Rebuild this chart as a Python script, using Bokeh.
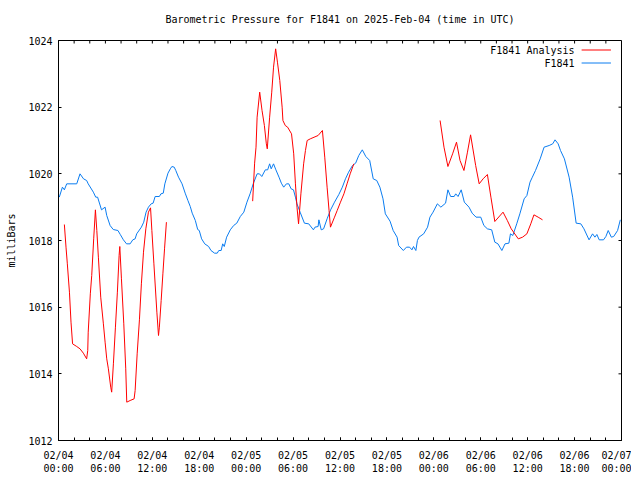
from math import pi
from bokeh.plotting import figure
from bokeh.models import FixedTicker, LinearAxis, Range1d, Label
from bokeh.embed import file_html
from bokeh.resources import INLINE

# ---------------- data (hours since 2025-02-04 00:00 UTC, millibars) ----------------
tick_hours = [0, 6, 12, 18, 24, 30, 36, 42, 48, 54, 60, 66, 72]
tick_labels = ["02/04\n00:00", "02/04\n06:00", "02/04\n12:00", "02/04\n18:00",
               "02/05\n00:00", "02/05\n06:00", "02/05\n12:00", "02/05\n18:00",
               "02/06\n00:00", "02/06\n06:00", "02/06\n12:00", "02/06\n18:00",
               "02/07\n00:00"]
minor_hours = list(range(0, 73, 2))
y_ticks = [1012, 1014, 1016, 1018, 1020, 1022, 1024]

station_hours = [0.1, 0.5, 0.75, 1.05, 2.33, 2.75, 3.2, 3.6, 3.8, 4.46, 4.76, 5.0, 5.5, 5.96,
                 6.17, 6.6, 7.0, 7.6, 7.9, 8.3, 8.7, 9.16, 9.5, 9.8, 10.0, 10.6, 10.9, 11.2,
                 11.5, 11.85, 12.1, 12.36, 12.9, 13.1, 13.4, 13.6, 14.0, 14.3, 14.5, 14.8,
                 15.0, 15.35, 15.8, 16.2, 16.55, 16.85, 17.1, 17.5, 17.8, 18.0, 18.3, 18.7,
                 19.2, 19.5, 19.96, 20.3, 20.5, 20.8, 21.0, 21.2, 21.5, 21.97, 22.4, 22.8,
                 23.25, 23.7, 24.1, 24.5, 24.9, 25.4, 25.7, 26.0, 26.45, 26.75, 27.0, 27.2,
                 27.5, 27.8, 28.2, 28.5, 28.8, 29.15, 29.45, 29.75, 30.05, 30.3, 30.5, 30.9,
                 31.45, 32.0, 32.6, 32.8, 33.2, 33.3, 33.6, 33.9, 34.35, 34.8, 35.3, 35.85,
                 36.3, 36.7, 37.1, 37.6, 38.0, 38.4, 38.85, 39.3, 39.8, 40.25, 40.7, 41.1,
                 41.5, 41.8, 42.4, 42.8, 43.3, 43.5, 44.1, 44.5, 44.9, 45.2, 45.4, 45.7,
                 45.9, 46.1, 46.7, 47.2, 47.5, 47.9, 48.45, 48.9, 49.5, 49.8, 50.15, 50.6,
                 50.8, 51.1, 51.5, 51.9, 52.5, 52.9, 53.4, 54.0, 54.4, 54.85, 55.4, 55.8,
                 56.2, 56.7, 57.1, 57.6, 57.8, 58.1, 58.6, 59.0, 59.55, 59.9, 60.3, 60.6,
                 61.0, 61.6, 62.1, 62.75, 63.2, 63.5, 63.9, 64.2, 64.7, 65.3, 65.75, 66.2,
                 66.8, 67.2, 67.85, 68.3, 68.6, 68.85, 69.15, 69.7, 70.0, 70.3, 70.7, 71.0,
                 71.5, 71.85]
station_mb = [1019.3, 1019.6, 1019.52, 1019.7, 1019.7, 1020.0, 1019.85, 1019.8, 1019.7,
              1019.45, 1019.3, 1019.3, 1018.92, 1019.0, 1018.75, 1018.45, 1018.33, 1018.3,
              1018.18, 1018.02, 1017.9, 1017.9, 1018.02, 1018.05, 1018.2, 1018.4, 1018.55,
              1018.85, 1019.0, 1019.1, 1019.12, 1019.32, 1019.32, 1019.4, 1019.42, 1019.7,
              1020.02, 1020.15, 1020.22, 1020.2, 1020.1, 1019.9, 1019.7, 1019.42, 1019.2,
              1019.02, 1018.82, 1018.6, 1018.33, 1018.3, 1018.05, 1017.9, 1017.82, 1017.7,
              1017.62, 1017.62, 1017.7, 1017.7, 1017.9, 1017.82, 1018.1, 1018.32, 1018.45,
              1018.52, 1018.72, 1018.85, 1019.15, 1019.4, 1019.7, 1020.0, 1020.0, 1019.92,
              1020.12, 1020.12, 1020.3, 1020.15, 1020.3, 1020.12, 1019.9, 1019.72, 1019.6,
              1019.7, 1019.7, 1019.55, 1019.52, 1019.3, 1019.1, 1018.85, 1018.52, 1018.5,
              1018.32, 1018.4, 1018.42, 1018.62, 1018.32, 1018.35, 1018.65, 1018.92,
              1019.15, 1019.38, 1019.6, 1019.85, 1020.05, 1020.25, 1020.32, 1020.55,
              1020.72, 1020.52, 1020.4, 1019.85, 1019.8, 1019.6, 1019.25, 1018.8, 1018.58,
              1018.3, 1018.1, 1017.85, 1017.7, 1017.8, 1017.8, 1017.72, 1017.82, 1017.7,
              1018.0, 1018.1, 1018.2, 1018.4, 1018.7, 1018.85, 1019.1, 1019.0, 1019.12,
              1019.52, 1019.32, 1019.32, 1019.4, 1019.32, 1019.52, 1019.15, 1019.0,
              1018.82, 1018.7, 1018.7, 1018.45, 1018.35, 1018.32, 1017.95, 1017.9, 1017.7,
              1017.9, 1017.92, 1018.2, 1018.15, 1018.5, 1018.8, 1019.25, 1019.35, 1019.75,
              1019.9, 1020.1, 1020.45, 1020.8, 1020.85, 1020.9, 1021.02, 1020.9, 1020.7,
              1020.45, 1019.9, 1019.3, 1018.52, 1018.5, 1018.35, 1018.02, 1018.2, 1018.1,
              1018.18, 1018.02, 1018.02, 1018.12, 1018.3, 1018.1, 1018.12, 1018.3, 1018.62]

analysis1_hours = [0.75, 0.96, 1.13, 1.4, 1.6, 1.8, 2.33, 2.75, 3.18, 3.6, 3.74, 3.8, 4.07,
                   4.25, 4.5, 4.72, 4.9, 5.1, 5.4, 5.74, 5.96, 6.17, 6.38, 6.68, 6.8, 7.02,
                   7.28, 7.53, 7.75, 7.84, 8.05, 8.35, 8.6, 8.73, 9.16, 9.67, 9.8, 10.06,
                   10.35, 10.6, 10.87, 11.17, 11.5, 11.77, 11.94, 12.2, 12.58, 12.79, 12.9,
                   13.13, 13.35, 13.56, 13.8]
analysis1_mb = [1018.48, 1017.8, 1017.3, 1016.45, 1015.55, 1014.9, 1014.82, 1014.75, 1014.62,
                1014.45, 1014.7, 1015.25, 1016.4, 1016.95, 1018.05, 1018.92, 1018.3, 1017.5,
                1016.3, 1015.5, 1014.95, 1014.45, 1014.15, 1013.6, 1013.45, 1014.3, 1015.4,
                1016.45, 1017.55, 1017.82, 1016.85, 1015.5, 1014.15, 1013.15, 1013.2,
                1013.25, 1013.5, 1014.6, 1015.62, 1016.7, 1017.65, 1018.35, 1018.85,
                1018.98, 1018.3, 1017.3, 1015.85, 1015.15, 1015.4, 1016.2, 1017.0, 1017.75,
                1018.55]

analysis2_hours = [24.83, 25.08, 25.26, 25.4, 25.73, 26.03, 26.33, 26.58, 26.7, 27.0, 27.27,
                   27.5, 27.77, 28.0, 28.3, 28.6, 28.7, 29.0, 29.3, 29.8, 30.08, 30.3, 30.5,
                   30.7, 31.0, 31.35, 31.58, 31.8, 32.2, 33.2, 33.75, 34.05, 34.35, 34.6,
                   34.78, 35.3, 35.64, 36.06, 36.5, 36.9, 37.3, 37.77]
analysis2_mb = [1019.18, 1020.32, 1020.8, 1021.7, 1022.45, 1021.9, 1021.45, 1020.9, 1020.75,
                1021.7, 1022.45, 1023.2, 1023.75, 1023.35, 1022.8, 1022.0, 1021.6, 1021.45,
                1021.4, 1021.2, 1020.6, 1019.7, 1019.0, 1018.5, 1019.4, 1020.3, 1020.7,
                1021.0, 1021.05, 1021.15, 1021.3, 1020.5, 1019.6, 1018.9, 1018.4, 1018.7,
                1018.9, 1019.15, 1019.4, 1019.7, 1020.0, 1020.3]

analysis3_hours = [48.8, 49.3, 49.8, 50.4, 50.9, 51.35, 51.85, 52.3, 52.7, 53.35, 53.8, 54.3,
                   54.85, 55.3, 55.8, 56.85, 57.4, 57.9, 58.8, 59.35, 59.9, 60.4, 60.8,
                   61.34, 61.9]
analysis3_mb = [1021.6, 1020.8, 1020.22, 1020.6, 1020.95, 1020.4, 1020.1, 1020.65, 1021.17,
                1020.25, 1019.7, 1019.85, 1019.98, 1019.3, 1018.57, 1018.85, 1018.6, 1018.35,
                1018.05, 1018.1, 1018.2, 1018.5, 1018.77, 1018.7, 1018.62]

title_text = "Barometric Pressure for F1841 on 2025-Feb-04 (time in UTC)"
series_names = ["F1841 Analysis", "F1841"]
RED = "#ff0000"
BLUE = "#0a7cf0"
FONT = "DejaVu Sans Mono"
FS = "10px"

X0, X1 = 0, 72
Y0, Y1 = 1012, 1024

# ---------------- figure ----------------
p = figure(frame_width=563, frame_height=400, output_backend="svg", toolbar_location=None,
           x_range=Range1d(X0, X1), y_range=Range1d(Y0, Y1),
           min_border_left=58, min_border_top=40, min_border_right=10, min_border_bottom=10,
           x_axis_type=None, y_axis_type=None)
p.background_fill_color = "white"
p.border_fill_color = "white"
p.outline_line_color = "black"
p.outline_line_width = 1
p.xgrid.visible = False
p.ygrid.visible = False

p.title.text = title_text
p.title.align = "center"
p.title.vertical_align = "top"
p.title.text_font = FONT
p.title.text_font_size = FS
p.title.text_font_style = "normal"
p.title.text_color = "black"
p.title.standoff = 27

xt = FixedTicker(ticks=tick_hours, minor_ticks=minor_hours)
yt = FixedTicker(ticks=y_ticks, minor_ticks=[])


def style(ax):
    ax.axis_line_color = "black"
    ax.major_tick_in = 3
    ax.major_tick_out = 0
    ax.minor_tick_in = 3
    ax.minor_tick_out = 0
    ax.major_tick_line_color = "black"
    ax.minor_tick_line_color = "black"
    ax.major_label_text_font = FONT
    ax.major_label_text_font_size = FS
    ax.major_label_text_color = "black"
    ax.axis_label_text_font = FONT
    ax.axis_label_text_font_size = FS
    ax.axis_label_text_font_style = "normal"
    ax.axis_label_text_color = "black"


xb = LinearAxis(ticker=xt)
style(xb)
xb.major_label_overrides = {h: lab for h, lab in zip(tick_hours, tick_labels)}
xb.major_label_standoff = 9
p.add_layout(xb, "below")

yl = LinearAxis(ticker=yt, axis_label="milliBars")
style(yl)
yl.major_label_standoff = 6
yl.axis_label_standoff = 8
p.add_layout(yl, "left")

# mirrored inward ticks on top and right borders (gnuplot style)
p.ray(x=minor_hours, y=[Y1] * len(minor_hours), length=3, length_units="screen",
      angle=-pi / 2, line_color="black", line_width=1)
p.ray(x=[X1] * len(y_ticks), y=y_ticks, length=3, length_units="screen",
      angle=pi, line_color="black", line_width=1)

# ---------------- data lines ----------------
p.line(station_hours, station_mb, line_color=BLUE, line_width=1)
for hs, ms in [(analysis1_hours, analysis1_mb), (analysis2_hours, analysis2_mb),
               (analysis3_hours, analysis3_mb)]:
    p.line(hs, ms, line_color=RED, line_width=1)

# ---------------- key (gnuplot style: text then sample line) ----------------
key_text_x = 66.0
key_line_x0, key_line_x1 = 66.9, 70.65
key_rows_y = [1023.715, 1023.325]
for name, col, ky in zip(series_names, [RED, BLUE], key_rows_y):
    p.add_layout(Label(x=key_text_x, y=ky, text=name, text_align="right",
                       text_baseline="middle", text_font=FONT, text_font_size=FS,
                       text_color="black"))
    p.segment(x0=[key_line_x0], y0=[ky], x1=[key_line_x1], y1=[ky], line_color=col,
              line_width=1)

open("out.html", "w").write(file_html(p, INLINE))
